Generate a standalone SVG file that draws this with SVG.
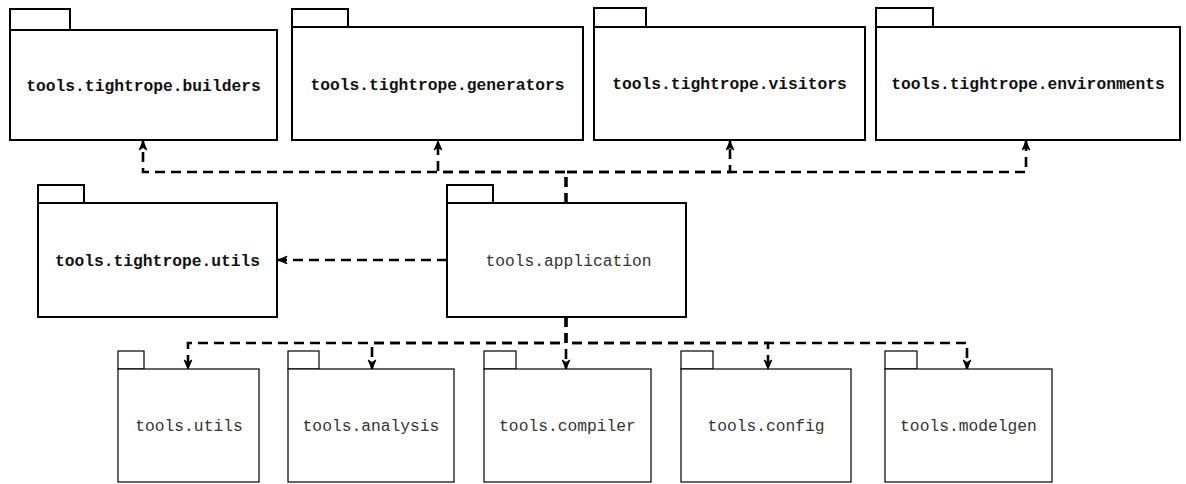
<svg xmlns="http://www.w3.org/2000/svg" width="1186" height="484" viewBox="0 0 1186 484">
  <style>
    .pkg { fill: #ffffff; stroke: #000000; stroke-width: 2; }
    .pkg-thin { fill: #ffffff; stroke: #000000; stroke-width: 1.2; }
    .lbl { font-family: "Liberation Mono", "Courier New", monospace; font-size: 16.3px; text-anchor: middle; }
    .lbl-bold { font-weight: bold; fill: #111111; }
    .lbl-norm { font-weight: normal; fill: #333333; }
    .dep { fill: none; stroke: #000000; stroke-width: 2.6; stroke-dasharray: 10 6; marker-end: url(#head); }
  </style>
  <defs>
    <marker id="head" viewBox="-10 -5 11 10" refX="0" refY="0" markerWidth="11" markerHeight="10" markerUnits="userSpaceOnUse" orient="auto">
      <path d="M0,0 L-9,-3.8 L-6.5,0 L-9,3.8 Z" fill="#000000" stroke="#000000" stroke-width="1"/>
    </marker>
  </defs>
  <rect width="1186" height="484" fill="#ffffff"/>

  <!-- top row: tightrope packages -->
  <g id="pkg-builders">
    <rect class="pkg" x="10" y="9" width="60" height="21"/>
    <rect class="pkg" x="10" y="30" width="267" height="110"/>
    <text class="lbl lbl-bold" x="143.5" y="91">tools.tightrope.builders</text>
  </g>
  <g id="pkg-generators">
    <rect class="pkg" x="292" y="9" width="56" height="18"/>
    <rect class="pkg" x="292" y="27" width="291" height="113"/>
    <text class="lbl lbl-bold" x="437.5" y="90">tools.tightrope.generators</text>
  </g>
  <g id="pkg-visitors">
    <rect class="pkg" x="594" y="8" width="52" height="19"/>
    <rect class="pkg" x="594" y="27" width="271" height="113"/>
    <text class="lbl lbl-bold" x="729.5" y="89">tools.tightrope.visitors</text>
  </g>
  <g id="pkg-environments">
    <rect class="pkg" x="876" y="8" width="57" height="19"/>
    <rect class="pkg" x="876" y="27" width="304" height="113"/>
    <text class="lbl lbl-bold" x="1028" y="89">tools.tightrope.environments</text>
  </g>

  <!-- middle row -->
  <g id="pkg-tightrope-utils">
    <rect class="pkg" x="38" y="185" width="46" height="18"/>
    <rect class="pkg" x="38" y="203" width="239" height="114"/>
    <text class="lbl lbl-bold" x="157.5" y="266">tools.tightrope.utils</text>
  </g>
  <g id="pkg-application">
    <rect class="pkg" x="447" y="185" width="46" height="18"/>
    <rect class="pkg" x="447" y="203" width="239" height="114"/>
    <text class="lbl lbl-norm" x="568.5" y="266">tools.application</text>
  </g>

  <!-- bottom row -->
  <g id="pkg-utils">
    <rect class="pkg-thin" x="118" y="351" width="26" height="18"/>
    <rect class="pkg-thin" x="118" y="369" width="141" height="113"/>
    <text class="lbl lbl-norm" x="189" y="431">tools.utils</text>
  </g>
  <g id="pkg-analysis">
    <rect class="pkg-thin" x="288" y="351" width="31" height="18"/>
    <rect class="pkg-thin" x="288" y="369" width="166" height="113"/>
    <text class="lbl lbl-norm" x="371" y="431">tools.analysis</text>
  </g>
  <g id="pkg-compiler">
    <rect class="pkg-thin" x="484" y="351" width="32" height="18"/>
    <rect class="pkg-thin" x="484" y="369" width="167" height="113"/>
    <text class="lbl lbl-norm" x="567.5" y="431">tools.compiler</text>
  </g>
  <g id="pkg-config">
    <rect class="pkg-thin" x="681" y="351" width="32" height="18"/>
    <rect class="pkg-thin" x="681" y="369" width="170" height="113"/>
    <text class="lbl lbl-norm" x="766" y="431">tools.config</text>
  </g>
  <g id="pkg-modelgen">
    <rect class="pkg-thin" x="885" y="351" width="32" height="18"/>
    <rect class="pkg-thin" x="885" y="369" width="167" height="113"/>
    <text class="lbl lbl-norm" x="968.5" y="431">tools.modelgen</text>
  </g>

  <!-- dependencies of tools.application -->
  <g id="connectors">
    <path class="dep" d="M566,203 V172 H143 V141"/>
    <path class="dep" d="M566,203 V172 H438 V141"/>
    <path class="dep" d="M566,203 V172 H730 V141"/>
    <path class="dep" d="M566,203 V172 H1026 V141"/>
    <path class="dep" d="M447,260 H278"/>
    <path class="dep" d="M566,317 V343 H188 V369"/>
    <path class="dep" d="M566,317 V343 H372 V369"/>
    <path class="dep" d="M566,317 V369"/>
    <path class="dep" d="M566,317 V343 H768 V369"/>
    <path class="dep" d="M566,317 V343 H967 V369"/>
  </g>
</svg>
